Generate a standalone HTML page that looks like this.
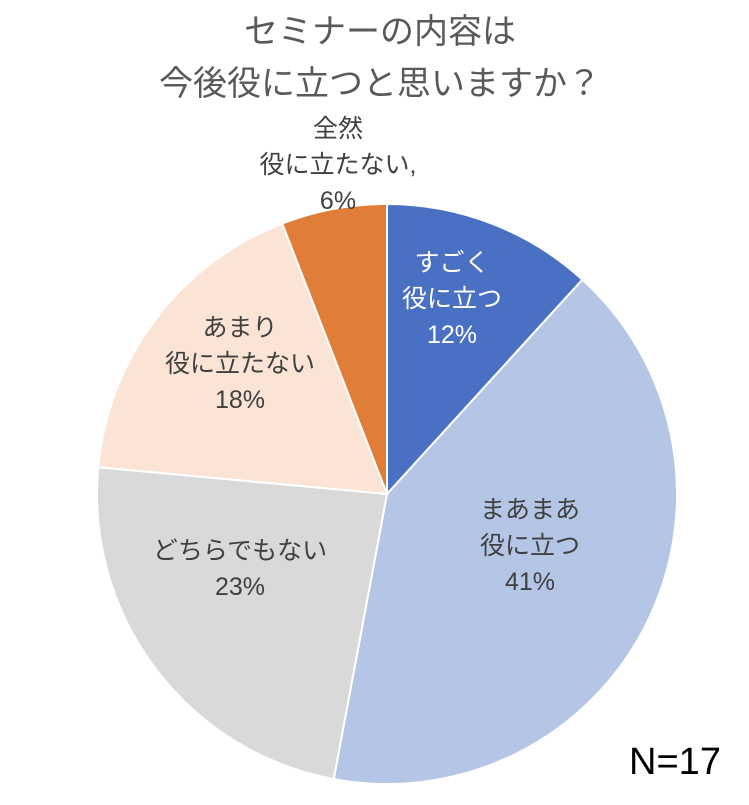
<!DOCTYPE html>
<html><head><meta charset="utf-8"><style>
body{margin:0;background:#fff;width:749px;height:800px;overflow:hidden;font-family:"Liberation Sans","Noto Sans CJK JP",sans-serif}
svg text{font-family:"Liberation Sans","Noto Sans CJK JP",sans-serif}
</style></head><body>
<svg id="chart" width="749" height="800">
<text x="380" y="43" text-anchor="middle" font-size="34" fill="#595959">セミナーの内容は</text>
<text x="380" y="95" text-anchor="middle" font-size="34" fill="#595959">今後役に立つと思いますか？</text>
<g id="slices"></g>
<g id="labels" font-size="25" fill="#404040" text-anchor="middle"></g>
<text x="675" y="774" text-anchor="middle" font-size="38" fill="#000">N=17</text>
</svg>
<script>
const categories=["すごく役に立つ","まあまあ役に立つ","どちらでもない","あまり役に立たない","全然役に立たない"];
const counts=[2,7,4,3,1];
const colors=["#4a70c4","#b4c5e6","#d9d9d9","#fbe4d5","#e07d38"];
const labelColors=["#ffffff","#404040","#404040","#404040","#404040"];
const labelLines=[["すごく","役に立つ","12%"],["まあまあ","役に立つ","41%"],["どちらでもない","23%"],["あまり","役に立たない","18%"],["全然","役に立たない,","6%"]];
const labelPos=[[452,271],[530,518],[240,559],[240,336],[338,137]];
const cx=387,cy=494,r=290;
const total=counts.reduce((a,b)=>a+b,0);
const ns="http://www.w3.org/2000/svg";
const gs=document.getElementById('slices'),gl=document.getElementById('labels');
let a0=0;
counts.forEach((v,i)=>{
  const a1=a0+v/total*2*Math.PI;
  const x0=cx+r*Math.sin(a0),y0=cy-r*Math.cos(a0),x1=cx+r*Math.sin(a1),y1=cy-r*Math.cos(a1);
  const p=document.createElementNS(ns,'path');
  p.setAttribute('d',`M${cx},${cy}L${x0},${y0}A${r},${r} 0 ${a1-a0>Math.PI?1:0} 1 ${x1},${y1}Z`);
  p.setAttribute('fill',colors[i]);p.setAttribute('stroke','#fff');p.setAttribute('stroke-width','2');
  
  
  gs.appendChild(p);
  const t=document.createElementNS(ns,'text');
  
  
  t.setAttribute('fill',labelColors[i]);
  labelLines[i].forEach((s,k)=>{const ts=document.createElementNS(ns,'tspan');ts.setAttribute('x',labelPos[i][0]);ts.setAttribute('y',labelPos[i][1]+k*36);ts.textContent=s;t.appendChild(ts);});
  gl.appendChild(t);
  a0=a1;
});
</script>
</body></html>
